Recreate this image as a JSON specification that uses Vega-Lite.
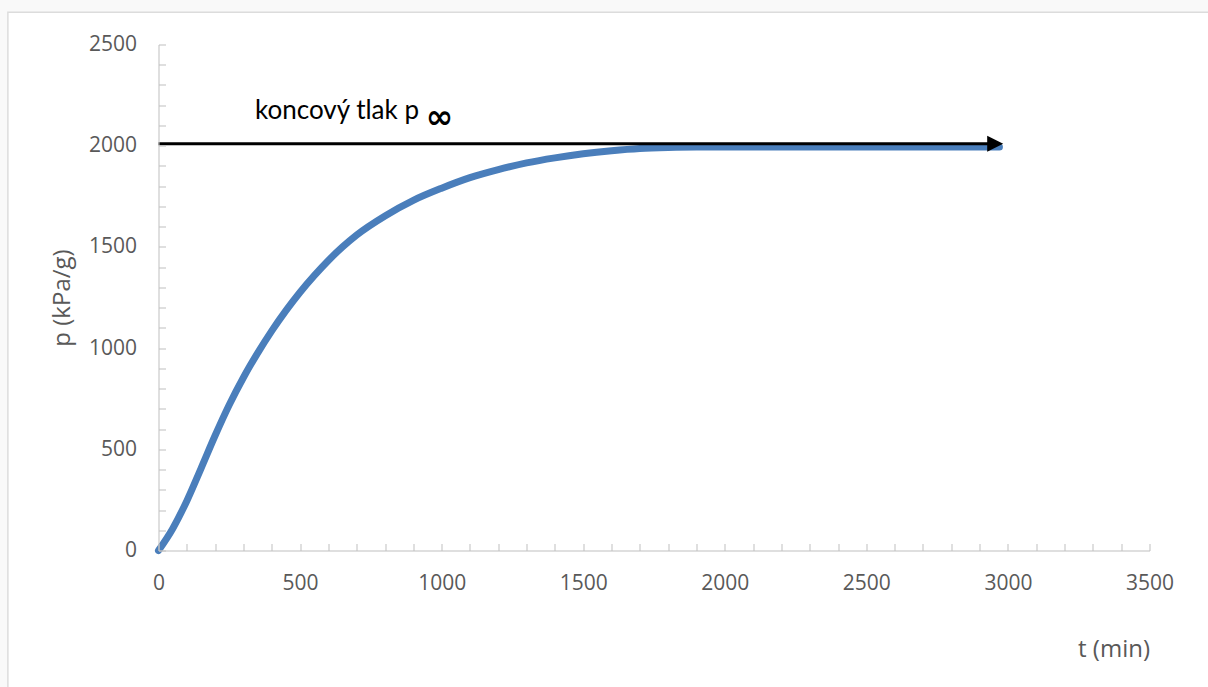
{
  "$schema": "https://vega.github.io/schema/vega-lite/v6.json",
  "width": 991,
  "height": 506,
  "autosize": "none",
  "padding": {"left": 158.5, "top": 44.5, "right": 58.5, "bottom": 136.5},
  "background": "#f9f9f9",
  "config": {
    "view": {"stroke": null},
    "axis": {
      "grid": false,
      "domainColor": "#bfbfbf",
      "tickColor": "#bfbfbf",
      "tickSize": -7,
      "tickCount": 100,
      "labelPadding": 29,
      "labelFont": "Open Sans",
      "labelFontSize": 21,
      "labelColor": "#595959",
      "labelOverlap": false,
      "labelFlush": false,
      "titleFont": "Open Sans",
      "titleFontSize": 24,
      "titleFontWeight": "normal",
      "titleColor": "#595959",
      "format": "d"
    }
  },
  "datasets": {
    "curve": [
      {"t": 0, "p": 0},
      {"t": 50, "p": 108},
      {"t": 100, "p": 245},
      {"t": 150, "p": 405},
      {"t": 200, "p": 568},
      {"t": 250, "p": 720},
      {"t": 300, "p": 855},
      {"t": 350, "p": 975},
      {"t": 400, "p": 1085},
      {"t": 450, "p": 1185},
      {"t": 500, "p": 1276},
      {"t": 550, "p": 1358},
      {"t": 600, "p": 1433},
      {"t": 650, "p": 1500},
      {"t": 700, "p": 1559},
      {"t": 800, "p": 1653},
      {"t": 900, "p": 1730},
      {"t": 1000, "p": 1790},
      {"t": 1100, "p": 1842},
      {"t": 1200, "p": 1882},
      {"t": 1300, "p": 1915},
      {"t": 1400, "p": 1940},
      {"t": 1500, "p": 1960},
      {"t": 1600, "p": 1975},
      {"t": 1700, "p": 1986},
      {"t": 1800, "p": 1991},
      {"t": 1900, "p": 1993},
      {"t": 2500, "p": 1993},
      {"t": 2970, "p": 1993}
    ],
    "arrow": [
      {"t": 0, "p": 2010},
      {"t": 2955, "p": 2010}
    ],
    "head": [
      {"t": 2955, "p": 2010}
    ],
    "label": [
      {"t": 341, "p": 2134, "text": "koncový tlak p"}
    ],
    "sub": [
      {"t": 944, "p": 2136, "text": "∞"}
    ]
  },
  "layer": [
    {
      "data": {"values": [{}]},
      "mark": {"type": "rect", "fill": "white", "stroke": "#dcdcdc", "strokeWidth": 1.5, "clip": false},
      "encoding": {
        "x": {"datum": -532, "type": "quantitative", "scale": {"domain": [0, 3500], "nice": false, "zero": false}, "axis": {"zindex": 1}},
        "x2": {"datum": 3800},
        "y": {"datum": 2659, "type": "quantitative", "scale": {"domain": [0, 2500], "nice": false}, "axis": {"zindex": 1}},
        "y2": {"datum": -750}
      }
    },
    {
      "data": {"name": "curve"},
      "mark": {"type": "line", "color": "#4a7ebb", "strokeWidth": 7, "strokeCap": "round", "strokeJoin": "round", "interpolate": "monotone"},
      "encoding": {
        "x": {
          "field": "t", "type": "quantitative",
          "scale": {"domain": [0, 3500], "nice": false, "zero": false},
          "axis": {
            "zindex": 1,
            "values": [0,100,200,300,400,500,600,700,800,900,1000,1100,1200,1300,1400,1500,1600,1700,1800,1900,2000,2100,2200,2300,2400,2500,2600,2700,2800,2900,3000,3100,3200,3300,3400,3500],
            "labelExpr": "datum.value % 500 === 0 ? datum.label : ''",
            "title": "t (min)",
            "titleX": 991,
            "titleY": 106,
            "titleAlign": "right",
            "titleBaseline": "alphabetic",
            "titleAnchor": null
          }
        },
        "y": {
          "field": "p", "type": "quantitative",
          "scale": {"domain": [0, 2500], "nice": false},
          "axis": {
            "zindex": 1,
            "values": [0,100,200,300,400,500,600,700,800,900,1000,1100,1200,1300,1400,1500,1600,1700,1800,1900,2000,2100,2200,2300,2400,2500],
            "labelExpr": "datum.value % 500 === 0 ? datum.label : ''",
            "title": "p (kPa/g)",
            "titleAngle": -90,
            "titleX": -89.5,
            "titleY": 253,
            "titleAlign": "center",
            "titleBaseline": "alphabetic",
            "titleAnchor": null
          }
        }
      }
    },
    {
      "data": {"name": "arrow"},
      "mark": {"type": "line", "color": "black", "strokeWidth": 3},
      "encoding": {
        "x": {"field": "t", "type": "quantitative"},
        "y": {"field": "p", "type": "quantitative"}
      }
    },
    {
      "data": {"name": "head"},
      "mark": {"type": "point", "shape": "M-1,-1L1,0L-1,1Z", "filled": true, "color": "black", "opacity": 1, "size": 256},
      "encoding": {
        "x": {"field": "t", "type": "quantitative"},
        "y": {"field": "p", "type": "quantitative"}
      }
    },
    {
      "data": {"name": "label"},
      "mark": {"type": "text", "font": "Lato", "fontSize": 26, "color": "black", "align": "left", "baseline": "alphabetic"},
      "encoding": {
        "x": {"field": "t", "type": "quantitative"},
        "y": {"field": "p", "type": "quantitative"},
        "text": {"field": "text"}
      }
    },
    {
      "data": {"name": "sub"},
      "mark": {"type": "text", "font": "DejaVu Sans", "fontSize": 33, "fontWeight": "bold", "color": "black", "align": "left", "baseline": "middle"},
      "encoding": {
        "x": {"field": "t", "type": "quantitative"},
        "y": {"field": "p", "type": "quantitative"},
        "text": {"field": "text"}
      }
    }
  ]
}
